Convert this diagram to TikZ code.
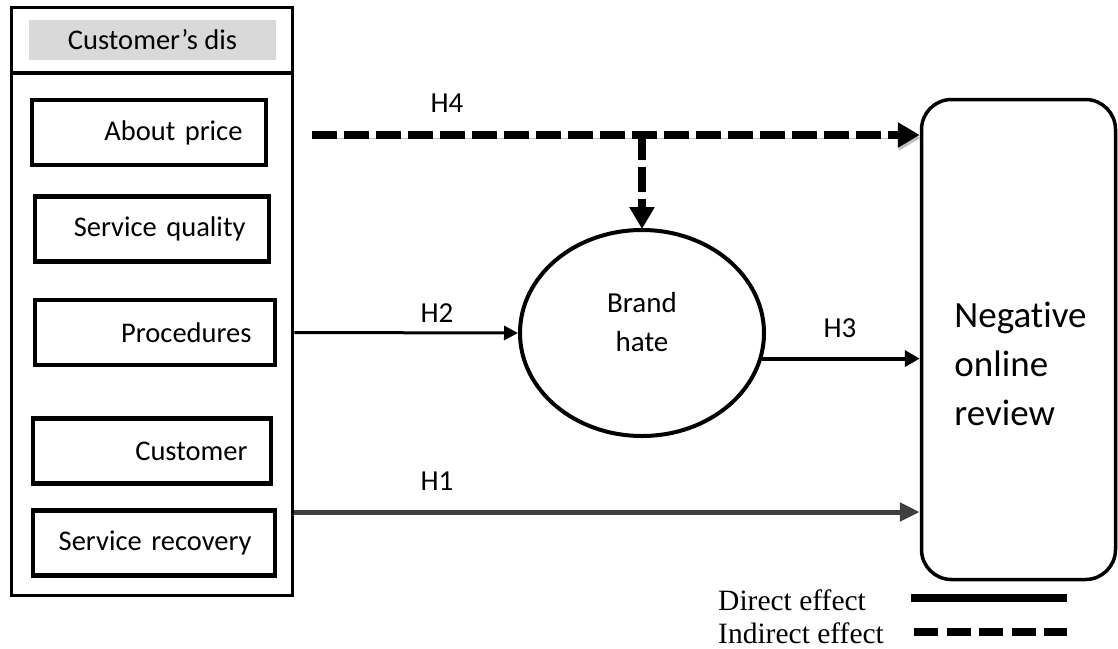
\documentclass[tikz,border=0pt]{standalone}
\usepackage{fontspec}
\setmainfont{Carlito}[Ligatures=NoCommon]
\newfontfamily\legendfont{Liberation Serif}
\usetikzlibrary{positioning,arrows.meta,shapes.geometric}

\begin{document}
\begin{tikzpicture}[x=1pt, y=-1pt]
    \tikzstyle{outer}=[rectangle, draw=black, line width=3.5, minimum width=281, minimum height=588, inner sep=0]
    \tikzstyle{header}=[rectangle, fill=black!15, minimum width=247, minimum height=40, font=\fontsize{28.5}{32}\selectfont]
    \tikzstyle{factor}=[rectangle, draw=black, line width=4.5, minimum height=65, inner sep=0, align=right, font=\fontsize{28.5}{32}\selectfont]
    \tikzstyle{main}=[ellipse, draw=black, line width=4, minimum width=244, minimum height=206, inner sep=0]
    \tikzstyle{outcome}=[rectangle, rounded corners=30, draw=black, line width=3.5, minimum width=194, minimum height=480, inner sep=0]
    \tikzstyle{hyp}=[font=\fontsize{29}{32}\selectfont]
    \tikzstyle{connect}=[-{Triangle[length=15, width=16]}, line width=4]
    \tikzstyle{indirect}=[-{Triangle[length=22, width=24]}, line width=8, dash pattern=on 25 off 7]
    \tikzstyle{legendtext}=[font=\legendfont\fontsize{29.5}{32}\selectfont, inner sep=0]
    \useasboundingbox (0,0) rectangle (1118,648);

      % left block of dissatisfaction factors
      \node[outer] (dis) at (152,301.5) {};
      \draw[line width=3.5] (dis.west |- 0,73) -- (dis.east |- 0,73);
      \node[header] (head) at (152.5,40) {Customer’s dis};
      \node[factor, minimum width=234, text width=187] (price) at (149,132.5) {About price};
      \node[factor, minimum width=234, text width=187] (quality) at (152,229) {Service quality};
      \node[factor, minimum width=240, text width=193] (proc) at (155,332.5) {Procedures};
      \node[factor, minimum width=238, text width=191] (cust) at (152,451) {Customer};
      \node[factor, minimum width=242, text width=195] (recov) at (154,543) {Service recovery};

      % mediator and outcome
      \node[main, label={[yshift=11, align=center, font=\fontsize{29}{39}\selectfont]center:{Brand\\hate}}] (brand) at (642,333) {};
      \node[outcome, label={[xshift=2, yshift=-24, align=left, font=\fontsize{37}{49}\selectfont]center:{Negative\\online\\review}}] (review) at (1018.5,339.5) {};

      % hypothesised paths
      \coordinate (h4) at (312,135);
      \coordinate (h1) at (dis.east |- 0,512);
      \draw[indirect, preaction={draw=black!25, transform canvas={shift={(1,3)}}}] (h4) -- (h4 -| review.west);
      \draw[indirect, shorten >=-1] (brand.north |- h4) -- (brand.north);
      \draw[connect, line width=3, -{Triangle[length=14, width=14]}] (proc.east -| dis.east) -- (brand.west);
      \draw[connect] (brand.-12) -- (brand.-12 -| review.west);
      \draw[connect, line width=5, black!75, -{Triangle[length=20, width=18]}] (h1) -- (h1 -| review.west);
      \node[hyp] (lh4) at (447,103) {H4};
      \node[hyp] (lh2) at (437,313) {H2};
      \node[hyp] (lh3) at (840,328) {H3};
      \node[hyp] (lh1) at (437,481) {H1};

      % legend
      \node[legendtext, anchor=base west] (ldirect) at (718,610) {Direct effect};
      \node[legendtext, anchor=base west] (lindirect) at (718,643) {Indirect effect};
      \draw[line width=8] (911,598) -- (1067,598);
      \draw[line width=8, dash pattern=on 24 off 8.5] (914,632) -- (1067,632);
\end{tikzpicture}
\end{document}
